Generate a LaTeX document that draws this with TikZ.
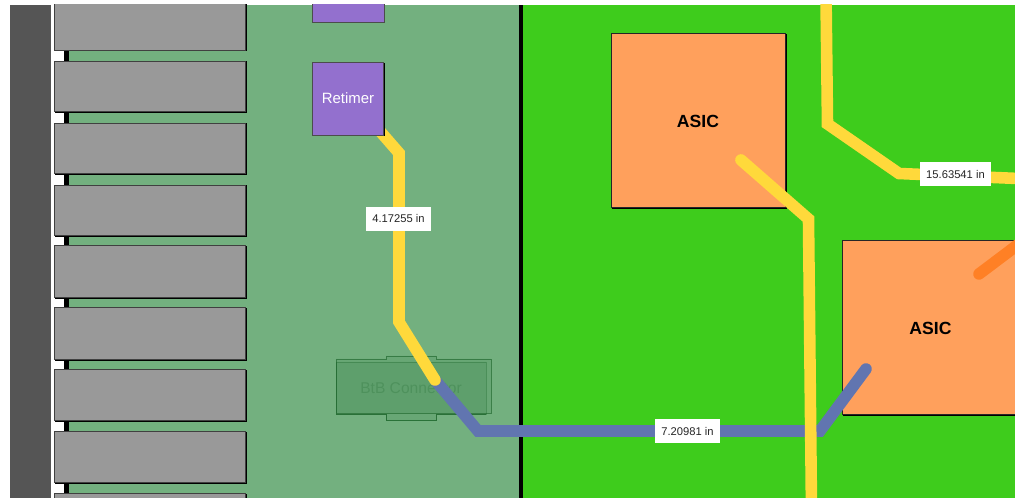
\documentclass[tikz,border=0pt]{standalone}
\usepackage{fontspec}
\setmainfont{Liberation Sans}
\definecolor{rail}{HTML}{555555}
\definecolor{board}{HTML}{73B07F}
\definecolor{bright}{HTML}{3ECC1C}
\definecolor{slotg}{HTML}{999999}
\definecolor{retim}{HTML}{9370CE}
\definecolor{asicc}{HTML}{FFA05C}
\definecolor{yel}{HTML}{FFD93B}
\definecolor{blu}{HTML}{6175B0}
\definecolor{ora}{HTML}{FF8025}
\definecolor{btb}{HTML}{0F5A1E}
\tikzset{
  x=0.75pt,y=-0.75pt,
  shade off/.style={preaction={draw=black,line width=.6pt,transform canvas={shift={(.55pt,-.55pt)}}}},
  slotbox/.style={shade off,draw=black!75,fill=slotg,line width=.6pt,inner sep=0pt},
  retimerbox/.style={shade off,draw=black!70,fill=retim,line width=.6pt,inner sep=0pt,text=white,font=\fontsize{11.2}{13}\selectfont},
  asicbox/.style={shade off,draw=black!85,fill=asicc,line width=.6pt,inner sep=0pt,outer sep=0pt},
  asictext/.style={font=\bfseries\fontsize{13.2}{15}\selectfont},
  lenlabel/.style={fill=white,inner sep=0pt,minimum height=18pt,text=black!85,font=\fontsize{8.4}{10}\selectfont},
  trace/.style={line width=8.7pt,line join=miter,line cap=round},
  btbpart/.style={draw=btb,draw opacity=.55,fill=btb,fill opacity=.1,line width=.6pt},
}
\begin{document}
\begin{tikzpicture}
\useasboundingbox (0,0) rectangle (1015,498);
\fill[white] (0,0) rectangle (1015,498);
\begin{scope}
\clip (10,5) rectangle (1015,498);
\fill[rail] (10,5) rectangle (51,498);
\fill[board] (69,5) rectangle (519,498);
\fill[bright] (523,5) rectangle (1015,498);
\fill[black] (64,5) rectangle (69,498);
\fill[black] (518.500,5) rectangle (523,498);
\foreach \a/\b in {-10/50,61/111.500,123/173.500,185/235.500,245.500/297.500,307.500/359.500,369.500/420.500,431.500/482.500,493.500/540}{
  \path[slotbox] (54.500,\a) rectangle (245.500,\b);
}
% BtB connector
\path[btbpart] (336,359) -- (386,359) -- (386,356) -- (436,356) -- (436,359) -- (491,359) -- (491,413) -- (336,413) -- cycle;
\path[btbpart,draw opacity=.3] (336,362) -- (486,362) -- (486,414.500) -- (436,414.500) -- (436,420) -- (386,420) -- (386,414.500) -- (336,414.500) -- cycle;
\draw[btb,draw opacity=.6,line width=.6pt] (336,414.500) -- (386,414.500) (436,414.500) -- (486,414.500) (386,414.500) -- (386,420) -- (436,420) -- (436,414.500);
\node[text=btb,text opacity=.2,font=\fontsize{11.700}{14}\selectfont] (btbtext) at (411,388.500) {BtB Connector};
% ASICs
\node[asicbox,minimum width=130.500pt,minimum height=130.500pt] (asicA) at (698.200,120.700) {};
\node[asicbox,minimum width=130.500pt,minimum height=130.500pt] (asicB) at (929.300,327.700) {};
\node[asictext] (asicAt) at (698,121) {ASIC};
\node[asictext] (asicBt) at (930.500,328.500) {ASIC};
% coordinates
\coordinate (ya1) at (372,122);
\coordinate (ya2) at (399,153);
\coordinate (ya3) at (399,322);
\coordinate (yend) at (435,380);
\coordinate (b2) at (478,431);
\coordinate (b3) at (820,431);
\coordinate (b4) at (866,369);
\coordinate (yb1) at (826,-5);
\coordinate (yb2) at (827.500,124);
\coordinate (yb3) at (899,173.500);
\coordinate (yb4) at (1030,179);
\coordinate (yc1) at (741,160);
\coordinate (yc2) at (808.500,219);
\coordinate (yc3) at (811.500,510);
\coordinate (o1) at (979,274);
\coordinate (o2) at (1040,228);
% traces
\draw[trace,blu] (yend) -- (b2) -- (b3) -- (b4);
\draw[trace,yel] (ya1) -- (ya2) -- (ya3) -- (yend);
\draw[trace,yel] (yb1) -- (yb2) -- (yb3) -- (yb4);
\draw[trace,yel] (yc1) -- (yc2) -- (yc3);
\draw[trace,ora] (o1) -- (o2);
% retimers
\node[retimerbox,outer sep=0pt,minimum width=53.800pt,minimum height=54.400pt] (retA) at (348,98.800) {\raisebox{.6pt}{Retimer}};
\path[retimerbox] (312.400,-10) rectangle (384,22);
% labels
\node[lenlabel,minimum width=48.750pt] (lenA) at (398.500,219) {4.17255 in};
\node[lenlabel,minimum width=48.750pt] (lenB) at (687.500,431) {7.20981 in};
\node[lenlabel,minimum width=53.250pt] (lenC) at (955.500,174.500) {15.63541 in};
\end{scope}
\end{tikzpicture}
\end{document}
